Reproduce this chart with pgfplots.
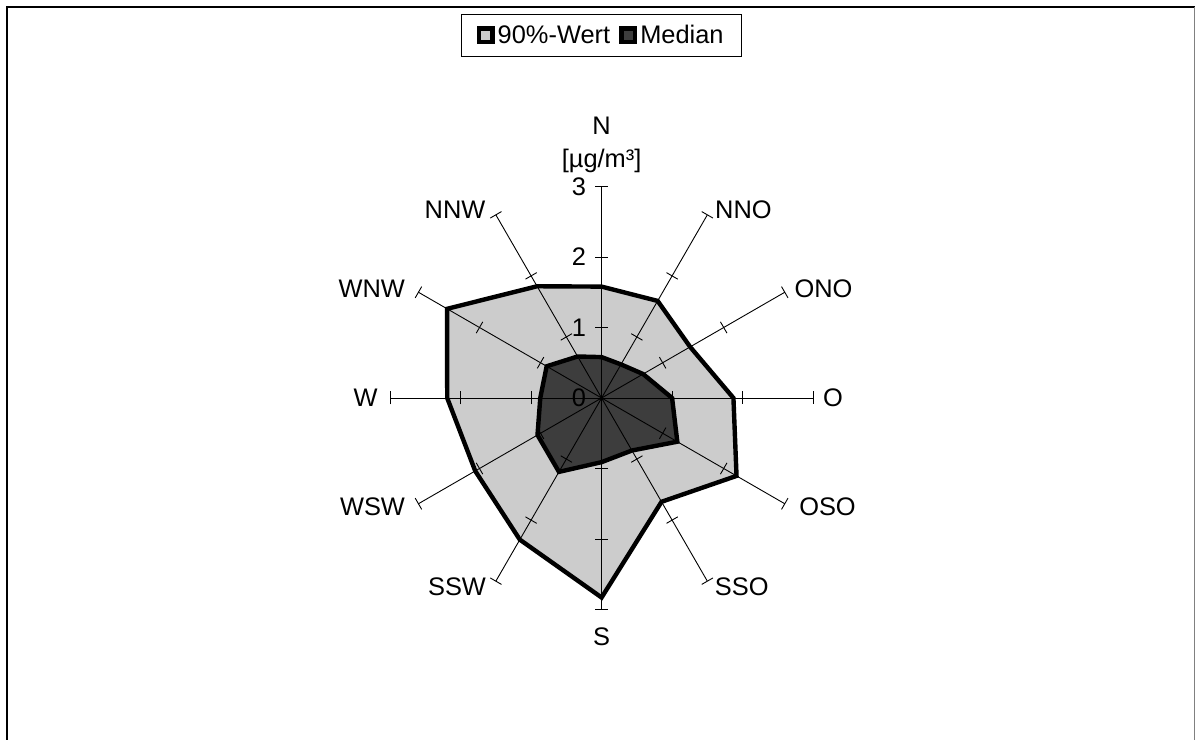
\documentclass[border=0pt]{standalone}
\usepackage{fontspec}
\setmainfont{Liberation Sans}
\usepackage{pgfplots}
\usepackage{pgfplotstable}
\usepgfplotslibrary{polar}
\pgfplotsset{compat=1.18}

\definecolor{hell}{gray}{0.80}
\definecolor{dunkel}{gray}{0.24}

% Winkel (Grad, gegen den Uhrzeigersinn ab Osten), Wert in ug/m3
\pgfplotstableread{
a v
90  1.58
60  1.59
30  1.45
0   1.87
330 2.21
300 1.70
270 2.83
240 2.32
210 2.07
180 2.19
150 2.53
120 1.83
}\neunzig

\pgfplotstableread{
a v
90  0.58
60  0.55
30  0.68
0   1.00
330 1.24
300 0.86
270 0.91
240 1.21
210 1.05
180 0.87
150 0.90
120 0.68
}\median

\begin{document}
\begin{tikzpicture}[font=\fontsize{25.5}{30}\selectfont]
\useasboundingbox (0,0) rectangle (1195bp,740bp);

% Rahmen
\draw[line width=2.4bp] (7.2bp,0) -- (7.2bp,732.8bp) -- (1195bp,732.8bp);
\draw[gray, line width=1bp] (1194bp,0) -- (1194bp,732.8bp);

\begin{polaraxis}[
	at={(601.6bp,342bp)}, anchor=center,
	scale only axis, width=423bp, height=423bp,
	xmin=0, xmax=360, ymin=0, ymax=3,
	hide axis, clip=false,
	legend columns=2,
	legend style={at={(0.5,1.358)}, anchor=center, draw=black, line width=0.8bp,
		inner xsep=15bp, inner ysep=9bp,
		font=\fontsize{25.5}{30}\selectfont,
		nodes={inner xsep=3bp},
		/tikz/every even column/.append style={column sep=6bp}},
	]

	% Flaechen
	\addplot[fill=hell, draw=none,
		legend image code/.code={\draw[line width=4.5bp, fill=hell] (0bp,-6.8bp) rectangle (13.6bp,6.8bp);}]
		table[x=a, y=v] {\neunzig} -- cycle;
	\addplot[fill=dunkel, draw=none,
		legend image code/.code={\draw[line width=4.5bp, fill=dunkel] (0bp,-6.8bp) rectangle (13.6bp,6.8bp);}]
		table[x=a, y=v] {\median} -- cycle;

	% Speichen mit Teilstrichen
	\pgfplotsinvokeforeach{0,30,...,330}{
		\draw[line width=0.9bp] (axis cs:#1,0) -- (axis cs:#1,3);
		\draw[line width=0.9bp] (axis cs:#1,1) ++({#1+90}:6.5bp) -- ++({#1-90}:13bp);
		\draw[line width=0.9bp] (axis cs:#1,2) ++({#1+90}:6.5bp) -- ++({#1-90}:13bp);
		\draw[line width=0.9bp] (axis cs:#1,3) ++({#1+90}:6.5bp) -- ++({#1-90}:13bp);
	}

	% Umrisse
	\addplot[forget plot, draw=black, line width=4.4bp, line join=miter]
		table[x=a, y=v] {\neunzig} -- cycle;
	\addplot[forget plot, draw=black, line width=4.4bp, line join=miter]
		table[x=a, y=v] {\median} -- cycle;

	\legend{90\%-Wert, Median}
\end{polaraxis}

% Skalenbeschriftung
\foreach \k/\yy in {0/398, 1/327.5, 2/257, 3/186.5}
	\node[inner sep=0pt] at (579bp,{(740-\yy)*1bp}) {\k};

% Richtungen
\node[inner sep=0pt, anchor=base] at (601.6bp,605.2bp) {N};
\node[inner sep=0pt, anchor=base] at (601.6bp,572.4bp) {[µg/m³]};
\node[inner sep=0pt] at (743.4bp,530bp) {NNO};
\node[inner sep=0pt] at (823.5bp,451bp) {ONO};
\node[inner sep=0pt] at (833bp,342bp) {O};
\node[inner sep=0pt] at (827.5bp,233bp) {OSO};
\node[inner sep=0pt] at (741.7bp,153.3bp) {SSO};
\node[inner sep=0pt] at (601.6bp,103bp) {S};
\node[inner sep=0pt] at (457bp,153.3bp) {SSW};
\node[inner sep=0pt] at (372.5bp,233.3bp) {WSW};
\node[inner sep=0pt] at (365.5bp,342bp) {W};
\node[inner sep=0pt] at (371.7bp,451bp) {WNW};
\node[inner sep=0pt] at (455bp,530bp) {NNW};
\end{tikzpicture}
\end{document}
